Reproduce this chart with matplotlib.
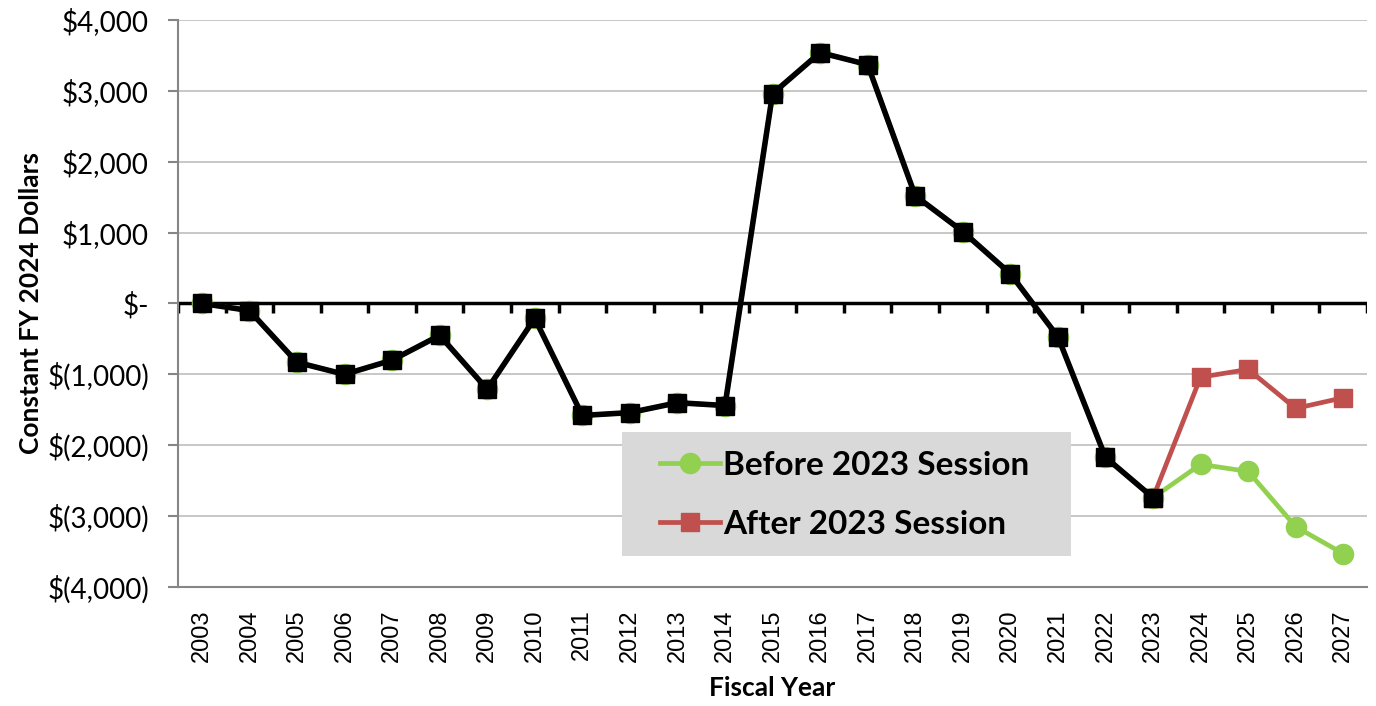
import matplotlib
matplotlib.use('Agg')
from matplotlib import pyplot as plt
from matplotlib.patches import Rectangle

years = [str(y) for y in range(2003, 2028)]

# historical line (drawn black on top)
actual = [0, -100, -830, -1000, -800, -450, -1210, -210, -1580, -1540, -1400, -1440,
          2960, 3540, 3370, 1520, 1015, 420, -470, -2170, -2740]
# projection before the session (covers the whole period)
before = actual + [-2270, -2370, -3150, -3530]
# projection after the session, starting from 2023
after = [-2740, -1040, -930, -1480, -1330]

y_ticks = [4000, 3000, 2000, 1000, 0, -1000, -2000, -3000, -4000]
y_labels = ['$4,000', '$3,000', '$2,000', '$1,000', '$-', '$(1,000)', '$(2,000)',
            '$(3,000)', '$(4,000)']

green = '#92D050'
red = '#C0504D'
grid_color = '#BEBEBE'
spine_color = '#868686'

plt.rcParams['font.family'] = ['Lato', 'DejaVu Sans']

fig = plt.figure(figsize=(13.76, 7.06), dpi=100)
ax = fig.add_axes([0.1294, 0.1686, 0.8641, 0.8031])

x_all = list(range(len(years)))
x_actual = x_all[:len(actual)]
x_after = x_all[20:]

ax.plot(x_all, before, color=green, lw=3.4, marker='o', ms=14.5, zorder=3,
        label='Before 2023 Session')
ax.plot(x_after, after, color=red, lw=3.4, marker='s', ms=13, zorder=4,
        label='After 2023 Session')
ax.plot(x_actual, actual, color='black', lw=4, marker='s', ms=13, zorder=5)

ax.set_xlim(-0.5, len(years) - 0.5)
ax.set_ylim(-4000, 4000)
ax.set_yticks(y_ticks)
ax.set_yticklabels(y_labels, fontsize=20)
ax.set_xticks(x_all)
ax.set_xticklabels(years, rotation=90, fontsize=17, family='Liberation Sans')
ax.tick_params(axis='x', length=0, pad=16)
ax.tick_params(axis='y', length=7, width=1.5, color=spine_color, pad=14)

ax.grid(axis='y', color=grid_color, lw=1.2)
ax.set_axisbelow(True)
for side in ['top', 'right']:
    ax.spines[side].set_visible(False)
for side in ['left', 'bottom']:
    ax.spines[side].set_color(spine_color)
    ax.spines[side].set_linewidth(1.5)

# thick zero line with category tick marks
ax.axhline(0, color='black', lw=2.5, zorder=2)
for b in range(len(years) + 1):
    ax.plot([b - 0.5, b - 0.5], [0, -130], color='black', lw=2.5, zorder=2,
            solid_capstyle='butt')

ax.set_xlabel('Fiscal Year', fontsize=19, fontweight='bold', labelpad=10)
ax.set_ylabel('Constant FY 2024 Dollars', fontsize=19, fontweight='bold', labelpad=3)

# legend background box
ax.add_patch(Rectangle((0.373, 0.0547), 0.378, 0.219, transform=ax.transAxes,
                       facecolor='#D9D9D9', edgecolor='none', zorder=6))
leg = ax.legend(loc='center left', bbox_to_anchor=(0.4054, 0.162),
                prop={'weight': 'bold', 'size': 24}, frameon=False,
                handlelength=1.8, handletextpad=0.1, borderpad=0,
                borderaxespad=0, labelspacing=0.9)
leg.set_zorder(7)

plt.savefig('out.png', dpi=100)
plt.close()
